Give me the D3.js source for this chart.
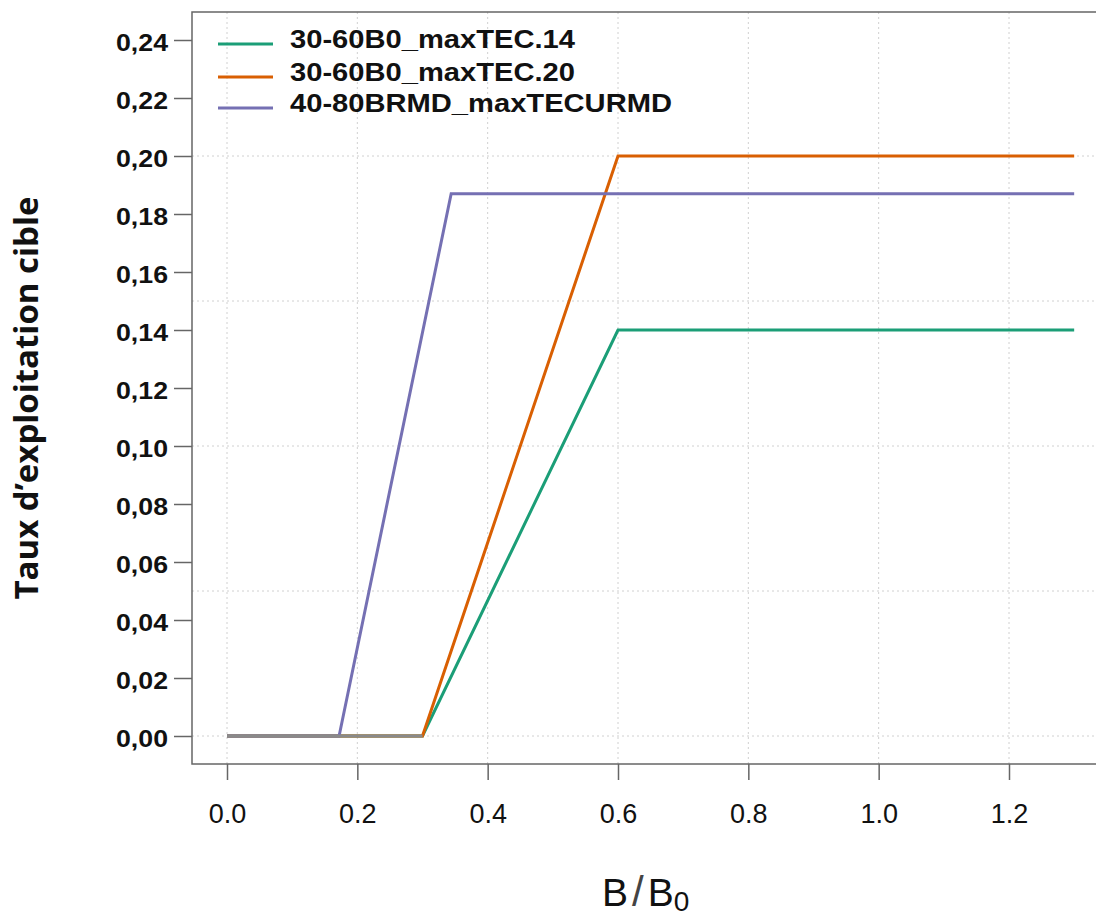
<!DOCTYPE html>
<html>
<head>
<meta charset="utf-8">
<script src="https://cdn.jsdelivr.net/npm/d3@7.9.0/dist/d3.min.js"></script>
<style>
  html, body { margin: 0; padding: 0; background: #fff; }
  svg { display: block; }
</style>
</head>
<body>
<svg id="chart" width="1096" height="918"></svg>
<script>
// Series (x = B/B0, y = target exploitation rate)
const seriesNames = ['30-60B0_maxTEC.14', '30-60B0_maxTEC.20', '40-80BRMD_maxTECURMD'];
const seriesColors = ['#1b9e77', '#d95f02', '#7570b3'];
const greenX = [0, 0.3, 0.6, 1.3];
const greenY = [0, 0, 0.14, 0.14];
const orangeX = [0, 0.3, 0.6, 1.3];
const orangeY = [0, 0, 0.20, 0.20];
const purpleX = [0, 0.172, 0.344, 1.3];
const purpleY = [0, 0, 0.187, 0.187];
// grey segment drawn over the flat zero part
const baseX = [0, 0.3];
const baseY = [0, 0];

const xTicks = [0, 0.2, 0.4, 0.6, 0.8, 1.0, 1.2];
const yTicks = [0, 0.02, 0.04, 0.06, 0.08, 0.10, 0.12, 0.14, 0.16, 0.18, 0.20, 0.22, 0.24];
const xGrid = [0, 0.2, 0.4, 0.6, 0.8, 1.0, 1.2];
const yGrid = [0, 0.05, 0.10, 0.15, 0.20];

const svg = d3.select('#chart');

// plot box (right side runs off the picture)
const box = { left: 192, top: 12, right: 1110, bottom: 764 };

const x = d3.scaleLinear().domain([0, 1.2]).range([227, 1009]);
const y = d3.scaleLinear().domain([0, 0.24]).range([736, 40]);

// dotted grid
svg.append('g')
  .selectAll('line')
  .data(xGrid)
  .join('line')
  .attr('x1', d => x(d)).attr('x2', d => x(d))
  .attr('y1', box.top).attr('y2', box.bottom)
  .attr('stroke', '#d0d0d0')
  .attr('stroke-width', 1)
  .attr('stroke-dasharray', '2,3');

svg.append('g')
  .selectAll('line')
  .data(yGrid)
  .join('line')
  .attr('x1', box.left).attr('x2', box.right)
  .attr('y1', d => y(d)).attr('y2', d => y(d))
  .attr('stroke', '#d0d0d0')
  .attr('stroke-width', 1)
  .attr('stroke-dasharray', '2,3');

// frame
svg.append('rect')
  .attr('x', box.left).attr('y', box.top)
  .attr('width', box.right - box.left).attr('height', box.bottom - box.top)
  .attr('fill', 'none')
  .attr('stroke', '#666')
  .attr('stroke-width', 1.5);

// y axis
const yAxis = svg.append('g')
  .attr('transform', `translate(${box.left},0)`)
  .call(d3.axisLeft(y)
    .tickValues(yTicks)
    .tickSize(18)
    .tickPadding(6)
    .tickFormat(d => d3.format('.2f')(d).replace('.', ',')));
yAxis.select('.domain').remove();
yAxis.selectAll('line').attr('stroke', '#666').attr('stroke-width', 1.5);
yAxis.selectAll('text')
  .attr('dy', '0.45em')
  .attr('fill', '#111')
  .style('font-family', '"Liberation Sans", Arial, sans-serif')
  .style('font-size', '24px')
  .style('font-weight', 'bold')
  .attr('textLength', 52)
  .attr('lengthAdjust', 'spacingAndGlyphs');

// x axis
const xAxis = svg.append('g')
  .attr('transform', `translate(0,${box.bottom})`)
  .call(d3.axisBottom(x)
    .tickValues(xTicks)
    .tickSize(16)
    .tickPadding(24)
    .tickFormat(d3.format('.1f')));
xAxis.select('.domain').remove();
xAxis.selectAll('line').attr('stroke', '#666').attr('stroke-width', 1.5);
xAxis.selectAll('text')
  .attr('fill', '#111')
  .style('font-family', '"Liberation Sans", Arial, sans-serif')
  .style('font-size', '27px');

// lines
const line = d3.line().x(d => x(d[0])).y(d => y(d[1]));
const series = [
  d3.zip(greenX, greenY),
  d3.zip(orangeX, orangeY),
  d3.zip(purpleX, purpleY),
];
svg.append('g')
  .selectAll('path')
  .data(series)
  .join('path')
  .attr('d', line)
  .attr('fill', 'none')
  .attr('stroke', (d, i) => seriesColors[i])
  .attr('stroke-width', 3)
  .attr('stroke-linejoin', 'miter');

svg.append('path')
  .datum(d3.zip(baseX, baseY))
  .attr('d', line)
  .attr('fill', 'none')
  .attr('stroke', '#8a8a8a')
  .attr('stroke-width', 3.2);

// legend
const legendRowY = [44, 77, 108];
const legendTextLen = [285, 285, 382];
const legend = svg.append('g')
  .selectAll('g')
  .data(seriesNames)
  .join('g')
  .attr('transform', (d, i) => `translate(0,${legendRowY[i]})`);
legend.append('line')
  .attr('x1', 218).attr('x2', 273)
  .attr('stroke', (d, i) => seriesColors[i])
  .attr('stroke-width', 3);
legend.append('text')
  .attr('x', 290)
  .attr('y', 4)
  .attr('fill', '#111')
  .style('font-family', '"Liberation Sans", Arial, sans-serif')
  .style('font-size', '26px')
  .style('font-weight', 'bold')
  .attr('textLength', (d, i) => legendTextLen[i])
  .attr('lengthAdjust', 'spacingAndGlyphs')
  .text(d => d);

// y title
svg.append('text')
  .attr('transform', 'translate(38,398) rotate(-90)')
  .attr('text-anchor', 'middle')
  .attr('fill', '#111')
  .style('font-family', '"Open Sans", sans-serif')
  .style('font-size', '33px')
  .style('font-weight', 'bold')
  .attr('textLength', 403)
  .attr('lengthAdjust', 'spacingAndGlyphs')
  .text('Taux d\u2019exploitation cible');

// x title: B / B0
const xt = svg.append('text')
  .attr('x', 602)
  .attr('y', 906)
  .attr('fill', '#111')
  .style('font-family', '"Liberation Sans", Arial, sans-serif')
  .style('font-size', '39px');
xt.append('tspan').text('B');
xt.append('tspan')
  .attr('dx', 4)
  .style('font-size', '42px')
  .style('font-weight', '300')
  .attr('fill', '#444')
  .text('/');
xt.append('tspan').attr('dx', 4).text('B');
xt.append('tspan')
  .attr('dy', 5)
  .style('font-size', '28px')
  .text('0');
</script>
</body>
</html>
